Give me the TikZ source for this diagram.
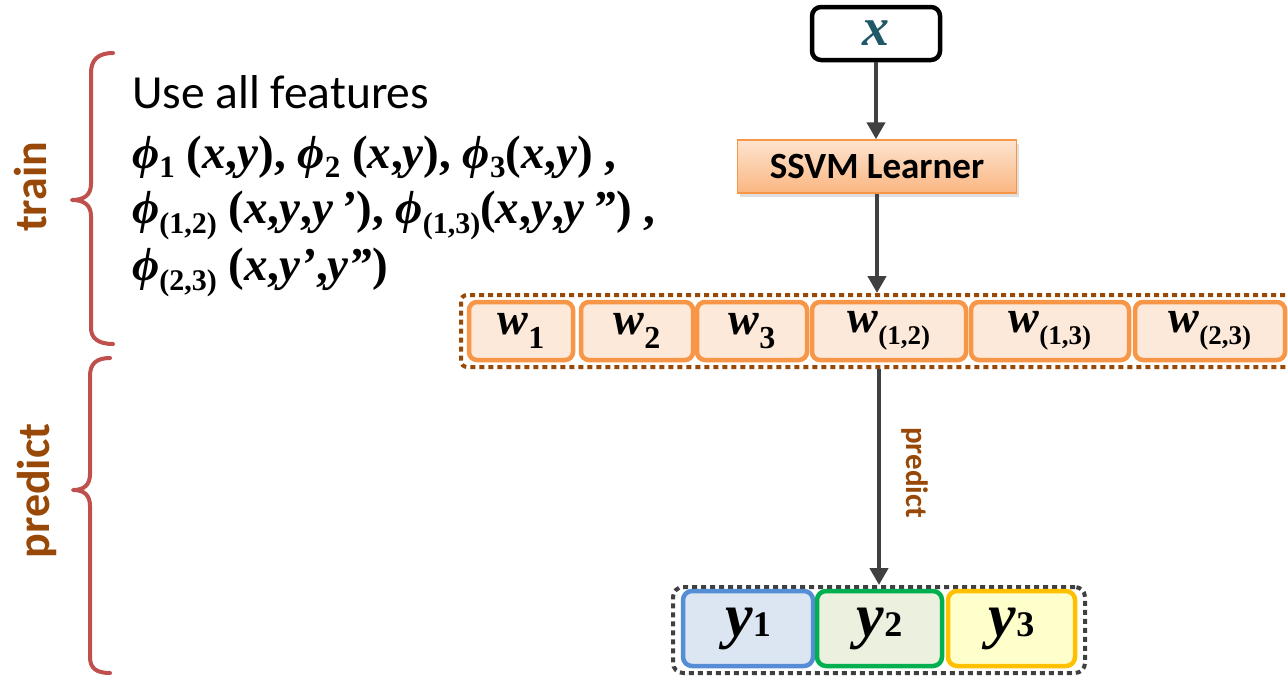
\documentclass[tikz,border=0pt]{standalone}
\usepackage{fontspec}
\setmainfont{Carlito}
\newfontfamily\tms{Liberation Serif}
\usetikzlibrary{arrows.meta,shadows}
\definecolor{brn}{HTML}{984807}
\definecolor{bracered}{HTML}{C0504D}
\definecolor{arrgray}{HTML}{404040}
\definecolor{worange}{HTML}{F79646}
\definecolor{wfill}{HTML}{FDE9D9}
\definecolor{ssvmtop}{HTML}{FDE4CF}
\definecolor{ssvmbot}{HTML}{FAB681}
\definecolor{xteal}{HTML}{215868}
\definecolor{yblue}{HTML}{558ED5}
\definecolor{yblfill}{HTML}{DCE6F2}
\definecolor{ygreen}{HTML}{00B050}
\definecolor{ygrfill}{HTML}{EBF1DE}
\definecolor{yyel}{HTML}{FFC000}
\definecolor{yyefill}{HTML}{FFFFCC}
\newcommand\mtx{\tms\bfseries\itshape}
\newcommand\up[1]{{\upshape #1}}
\newcommand\ssub[1]{\raisebox{-9pt}{\upshape\fontsize{31}{31}\selectfont #1}}
\newcommand\psub[1]{\raisebox{-10pt}{\upshape\fontsize{30}{30}\selectfont #1}}
\newcommand\wlab[1]{{\mtx\fontsize{46}{46}\selectfont w}\raisebox{-14pt}{\tms\bfseries\fontsize{32}{32}\selectfont #1}}
\newcommand\wlabp[1]{{\mtx\fontsize{46}{46}\selectfont w}\raisebox{-12pt}{\tms\bfseries\fontsize{27}{27}\selectfont #1}}
\newcommand\ylab[1]{{\mtx\fontsize{62}{62}\selectfont y}{\tms\bfseries\fontsize{36}{36}\selectfont #1}}
\tikzset{
  bracestyle/.style={draw=bracered, line width=4pt, line cap=round, line join=round},
  sidelabel/.style={text=brn, font=\bfseries\fontsize{46}{46}\selectfont, inner sep=0pt, rotate=90},
  mathline/.style={anchor=base west, inner sep=0pt, font=\mtx\fontsize{47}{47}\selectfont},
  wbox/.style={draw=worange, fill=wfill, line width=4.5pt, rounded corners=8pt, minimum height=58pt, inner sep=0pt},
  ybox/.style={line width=4.5pt, rounded corners=9pt, minimum height=75pt, inner sep=0pt},
  flowarrow/.style={draw=arrgray, line width=4.5pt, -{Triangle[width=18pt,length=17pt]}},
}
\begin{document}
\begin{tikzpicture}[x=1pt,y=-1pt]
\useasboundingbox (0,0) rectangle (1288,675);
\clip (0,0) rectangle (1288,675);
\fill[white] (0,0) rectangle (1288,675);

% braces
\draw[bracestyle] (113,53) .. controls (98,53) and (91,60) .. (91,73) -- (91,184)
  .. controls (91,195) and (84,200) .. (72,200) .. controls (84,200) and (91,205) .. (91,216)
  -- (91,328) .. controls (91,338) and (98,344) .. (113,344);
\draw[bracestyle] (110,358) .. controls (96,358) and (90,364) .. (90,376) -- (90,474)
  .. controls (90,485) and (84,490) .. (73,490) .. controls (84,490) and (90,495) .. (90,506)
  -- (90,657) .. controls (90,668) and (96,673) .. (110,673);
\node[sidelabel] (trainlab) at (31,187) {train};
\node[sidelabel] (predlab) at (37,491) {predict};

% feature text
\node[anchor=base west, inner sep=0pt, font=\fontsize{47.5}{47.5}\selectfont] (use) at (132,108) {Use all features};
\node[mathline] (l2) at (132,168) {ϕ\ssub{1} \up{(}x\up{,}y\up{),} ϕ\ssub{2} \up{(}x\up{,}y\up{),} ϕ\ssub{3}\up{(}x\up{,}y\up{)} \up{,}};
\node[mathline] (l3) at (132,223) {ϕ\psub{(1,2)} \up{(}x\up{,}y\up{,}y\,’\up{),} ϕ\psub{(1,3)}\up{(}x\up{,}y\up{,}y\,”\up{)} \up{,}};
\node[mathline] (l4) at (132,280) {ϕ\psub{(2,3)} \up{(}x\up{,}y’\up{,}y”\up{)}};

% x box
\node[draw=black, line width=4.5pt, rounded corners=9pt, minimum width=128pt, minimum height=53pt, inner sep=0pt,
      text=xteal, font=\mtx\fontsize{54}{54}\selectfont] (xbox) at (876,33.5) {x};

% SSVM learner
\node[draw=worange, line width=1.5pt, top color=ssvmtop, bottom color=ssvmbot, minimum width=279pt, minimum height=53pt,
      inner sep=0pt, font=\bfseries\fontsize{37}{37}\selectfont,
      drop shadow={opacity=0.25, shadow xshift=2pt, shadow yshift=-4pt}] (ssvm) at (877,166.5) {SSVM Learner};

% w row
\node[draw=brn, line width=4pt, dash pattern=on 5pt off 4pt, rounded corners=6pt, minimum width=839pt, minimum height=72pt, inner sep=0pt] (wrow) at (880.5,331) {};
\node[wbox, minimum width=104pt] (w1) at (521,331) {\wlab{1}};
\node[wbox, minimum width=112pt] (w2) at (637,331) {\wlab{2}};
\node[wbox, minimum width=110pt] (w3) at (752,331) {\wlab{3}};
\node[wbox, minimum width=154pt] (w12) at (889,331) {\wlabp{(1,2)}};
\node[wbox, minimum width=158pt] (w13) at (1050,331) {\wlabp{(1,3)}};
\node[wbox, minimum width=150pt] (w23) at (1210,331) {\wlabp{(2,3)}};

% y row
\node[draw=arrgray, line width=4pt, dash pattern=on 5pt off 4pt, rounded corners=10pt, minimum width=412pt, minimum height=86pt, inner sep=0pt] (yrow) at (879,630) {};
\node[ybox, draw=yblue, fill=yblfill, minimum width=130pt] (y1) at (748,628.5) {\ylab{1}};
\node[ybox, draw=ygreen, fill=ygrfill, minimum width=125pt] (y2) at (879.5,628.5) {\ylab{2}};
\node[ybox, draw=yyel, fill=yyefill, minimum width=127pt] (y3) at (1011.5,628.5) {\ylab{3}};

% arrows
\draw[flowarrow] (xbox.south) -- (xbox.south |- ssvm.north);
\draw[flowarrow] (ssvm.south) -- (ssvm.south |- wrow.north);
\draw[flowarrow] (yrow.north |- wrow.south) -- (yrow.north) node[pos=0.48, right=20pt, rotate=-90, anchor=south, text=brn, font=\bfseries\fontsize{31}{31}\selectfont, inner sep=0pt] (predarr) {predict};
\end{tikzpicture}
\end{document}
